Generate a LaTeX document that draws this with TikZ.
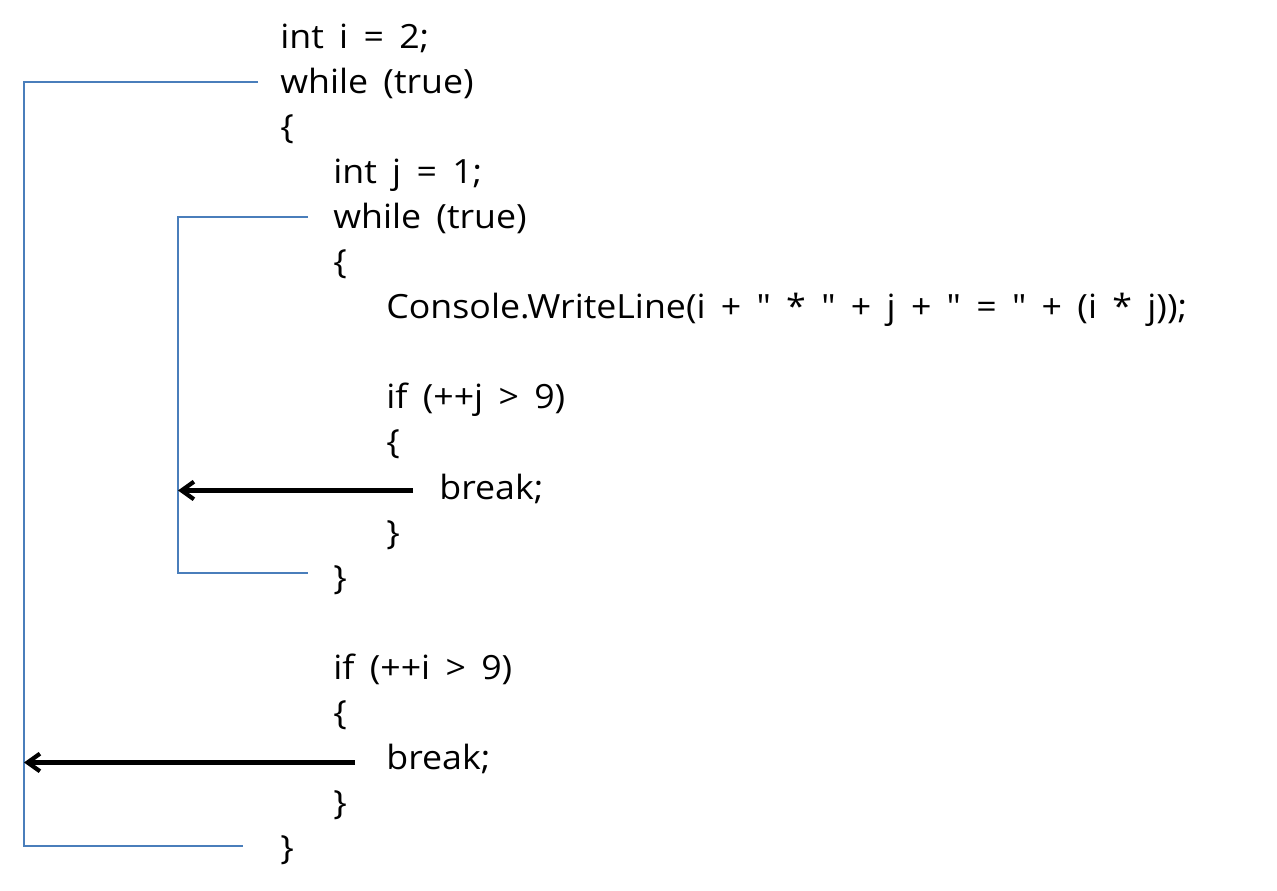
\documentclass[tikz,border=0pt]{standalone}
\usepackage{fontspec}
\newfontfamily\codefont{Open Sans}[FakeStretch=1.07, WordSpace=1.65]
\usetikzlibrary{arrows.meta}
\definecolor{loopblue}{RGB}{74,126,187}

\begin{document}
\begin{tikzpicture}[x=0.02cm,y=-0.02cm]
\tikzset{
  code/.style = {anchor=base west, inner sep=0pt,
                 font=\codefont\fontsize{19}{22}\selectfont},
  loopline/.style = {draw=loopblue, line width=1.1pt},
  breakarrow/.style = {-{Straight Barb[length=7pt,width=10pt]},
                       line width=2.4pt, black},
}
\useasboundingbox (0,0) rectangle (1277,891);

  % outer loop
  \node[code] (initI)  at (280,49)  {int i = 2;};
  \node[code] (whileI) at (280,94)  {while (true)};
  \node[code] (openI)  at (280,139) {\{};

  % inner loop
  \node[code] (initJ)  at (333,184) {int j = 1;};
  \node[code] (whileJ) at (333,229) {while (true)};
  \node[code] (openJ)  at (333,274) {\{};
  \node[code] (print)  at (386,319) {Console.WriteLine(i + " * " + j + " = " + (i * j));};
  \node[code] (ifJ)    at (386,409) {if (++j > 9)};
  \node[code] (openIfJ)  at (386,454) {\{};
  \node[code] (breakJ)   at (439,499) {break;};
  \node[code] (closeIfJ) at (386,544) {\}};
  \node[code] (closeJ)   at (333,589) {\}};

  \node[code] (ifI)      at (333,679) {if (++i > 9)};
  \node[code] (openIfI)  at (333,724) {\{};
  \node[code] (breakI)   at (386,769) {break;};
  \node[code] (closeIfI) at (333,814) {\}};
  \node[code] (closeI)   at (280,859) {\}};

  % brackets
  \coordinate (outerTop) at (258,82);
  \coordinate (outerEnd) at (243,846);
  \coordinate (outerRail) at (24,0);
  \coordinate (innerTop) at (308,217);
  \coordinate (innerEnd) at (308,573);
  \coordinate (innerRail) at (178,0);

  \draw[loopline] (outerTop) -| (outerRail |- outerEnd) -- (outerEnd);
  \draw[loopline] (innerTop) -| (innerRail |- innerEnd) -- (innerEnd);

  \draw[breakarrow] ([xshift=-0.52cm,yshift=-0.04cm]breakJ.west)
    -- ([yshift=-0.04cm]breakJ.west -| innerRail);
  \draw[breakarrow] ([xshift=-0.62cm,yshift=-0.08cm]breakI.west)
    -- ([yshift=-0.08cm]breakI.west -| outerRail);

\end{tikzpicture}
\end{document}
